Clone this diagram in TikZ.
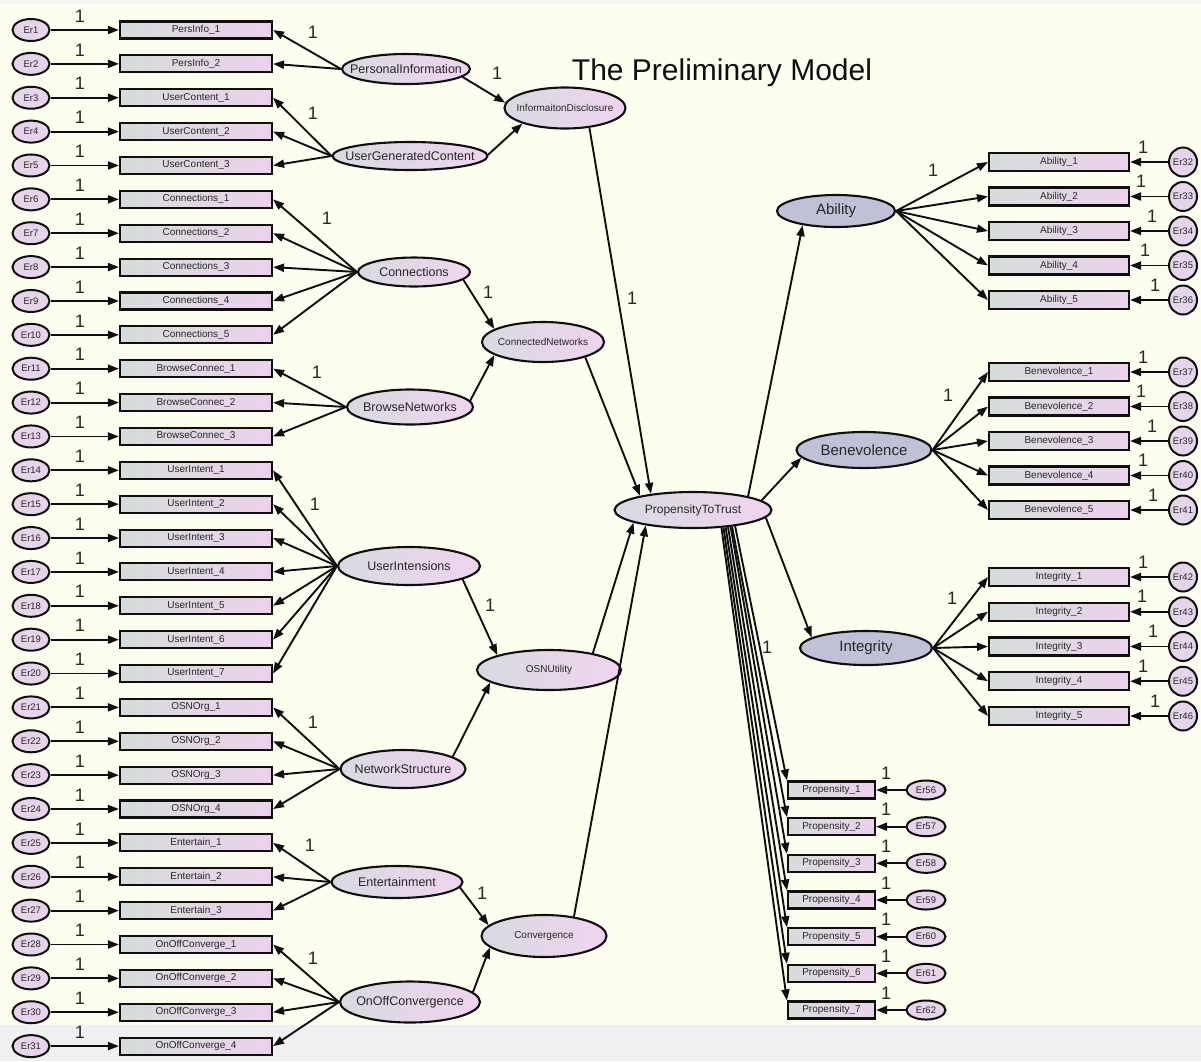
\documentclass[tikz,border=0pt]{standalone}
\usepackage{fontspec}
\setmainfont{Liberation Sans}
\usetikzlibrary{shapes.geometric,arrows.meta}
\definecolor{paper}{RGB}{253,253,240}
\definecolor{band}{RGB}{240,240,240}
\definecolor{topstrip}{RGB}{246,246,244}
\definecolor{obsL}{RGB}{214,220,218}
\definecolor{obsR}{RGB}{236,210,236}
\definecolor{latL}{RGB}{216,218,224}
\definecolor{latR}{RGB}{240,212,240}
\definecolor{errfill}{RGB}{230,212,234}
\definecolor{facfill}{RGB}{192,192,214}
\definecolor{ink}{RGB}{15,15,15}
\definecolor{txt}{RGB}{40,40,40}
% zero-width text so that node sizes come from the minimum sizes only
\newcommand\nw[1]{\makebox[0pt]{#1}}
\begin{document}
\begin{tikzpicture}[x=1pt,y=-1pt,
  arr/.style={line width=1.9pt, draw=ink, -{Triangle[length=11pt,width=8pt]}},
  obs/.style={rectangle, draw=ink, line width=2.1pt, left color=obsL, right color=obsR,
    minimum width=152pt, minimum height=17pt, inner sep=0pt,
    font=\fontsize{10}{11}\selectfont, text=txt},
  obsr/.style={obs, minimum width=140pt, minimum height=18pt},
  obsp/.style={obs, minimum width=87pt, minimum height=17pt},
  errl/.style={ellipse, draw=ink, line width=2pt, fill=errfill, minimum width=37pt,
    minimum height=22pt, inner sep=0pt, font=\fontsize{9.5}{10}\selectfont, text=txt},
  errc/.style={errl, minimum width=28pt, minimum height=29pt},
  errp/.style={errl, minimum width=39pt, minimum height=19pt},
  lat/.style={ellipse, draw=ink, line width=2.1pt, left color=latL, right color=latR,
    inner sep=0pt, font=\fontsize{12.5}{14}\selectfont, text=txt},
  lat2/.style={lat, font=\fontsize{10}{12}\selectfont},
  fac/.style={ellipse, draw=ink, line width=2.1pt, fill=facfill, inner sep=0pt,
    font=\fontsize{15}{17}\selectfont, text=txt},
  lbl/.style={font=\fontsize{18}{20}\selectfont, text=txt, inner sep=0pt}
]
% canvas
\useasboundingbox (0,0) rectangle (1201,1061);
\fill[paper] (0,0) rectangle (1201,1061);
\fill[topstrip] (0,0) rectangle (1201,4);
\fill[band] (0,1025) rectangle (1201,1061);

\node[font=\fontsize{30}{36}\selectfont, text=ink] (title) at (722,73) {The Preliminary Model};

% first-order factors (left)
\node[lat, minimum width=128pt, minimum height=30pt] (PI)  at (406,69)   {\nw{PersonalInformation}};
\node[lat, minimum width=155pt, minimum height=28pt] (UGC) at (410,156)  {\nw{UserGeneratedContent}};
\node[lat, minimum width=112pt, minimum height=29pt] (CON) at (414,272)  {\nw{Connections}};
\node[lat, minimum width=126pt, minimum height=35pt] (BN)  at (410,407)  {\nw{BrowseNetworks}};
\node[lat, minimum width=142pt, minimum height=38pt] (UI)  at (409,566)  {\nw{UserIntensions}};
\node[lat, minimum width=125pt, minimum height=38pt] (NS)  at (403,769)  {\nw{NetworkStructure}};
\node[lat, minimum width=131pt, minimum height=32pt] (ENT) at (397,882)  {\nw{Entertainment}};
\node[lat, minimum width=140pt, minimum height=41pt] (OOC) at (410,1002) {\nw{OnOffConvergence}};

% second-order factors
\node[lat2, minimum width=121pt, minimum height=41pt] (ID)   at (565,108) {\nw{InformaitonDisclosure}};
\node[lat2, minimum width=122pt, minimum height=40pt] (CN)   at (543,342) {\nw{ConnectedNetworks}};
\node[lat2, minimum width=144pt, minimum height=40pt] (OSN)  at (549,670) {\nw{OSNUtility}};
\node[lat2, minimum width=125pt, minimum height=42pt] (CONV) at (544,936) {\nw{Convergence}};

% central factor and outcome factors
\node[lat, font=\fontsize{12}{14}\selectfont, minimum width=157pt, minimum height=36pt] (PT) at (693,510) {\nw{PropensityToTrust}};
\node[fac, minimum width=118pt, minimum height=32pt] (AB) at (836,211) {\nw{Ability}};
\node[fac, minimum width=135pt, minimum height=36pt] (BE) at (864,450) {\nw{Benevolence}};
\node[fac, minimum width=132pt, minimum height=34pt] (IN) at (866,648) {\nw{Integrity}};

% left indicators with their error terms
\foreach \k/\lab/\f in {
  1/PersInfo\_1/PI, 2/PersInfo\_2/PI,
  3/UserContent\_1/UGC, 4/UserContent\_2/UGC, 5/UserContent\_3/UGC,
  6/Connections\_1/CON, 7/Connections\_2/CON, 8/Connections\_3/CON, 9/Connections\_4/CON, 10/Connections\_5/CON,
  11/BrowseConnec\_1/BN, 12/BrowseConnec\_2/BN, 13/BrowseConnec\_3/BN,
  14/UserIntent\_1/UI, 15/UserIntent\_2/UI, 16/UserIntent\_3/UI, 17/UserIntent\_4/UI,
  18/UserIntent\_5/UI, 19/UserIntent\_6/UI, 20/UserIntent\_7/UI,
  21/OSNOrg\_1/NS, 22/OSNOrg\_2/NS, 23/OSNOrg\_3/NS, 24/OSNOrg\_4/NS,
  25/Entertain\_1/ENT, 26/Entertain\_2/ENT, 27/Entertain\_3/ENT,
  28/OnOffConverge\_1/OOC, 29/OnOffConverge\_2/OOC, 30/OnOffConverge\_3/OOC, 31/OnOffConverge\_4/OOC}
{
  \pgfmathsetmacro\yy{30+33.87*(\k-1)}
  \node[errl] (e\k) at (31,\yy) {\nw{Er\k}};
  \node[obs] (b\k) at (196,\yy) {\lab};
  \draw[arr] (e\k) -- (b\k);
  \node[lbl] at (80,\yy-14) {1};
  \draw[arr] (\f.west) -- (b\k.east);
}

% right indicators with their error terms
\foreach \k/\lab/\f/\yy/\ox in {
  32/Ability\_1/AB/162/1143, 33/Ability\_2/AB/196.5/1141, 34/Ability\_3/AB/231/1152,
  35/Ability\_4/AB/265.5/1145, 36/Ability\_5/AB/300/1155,
  37/Benevolence\_1/BE/372/1143, 38/Benevolence\_2/BE/406.5/1141, 39/Benevolence\_3/BE/441/1152,
  40/Benevolence\_4/BE/475.5/1143, 41/Benevolence\_5/BE/510/1153,
  42/Integrity\_1/IN/577/1143, 43/Integrity\_2/IN/611.75/1142, 44/Integrity\_3/IN/646.5/1153,
  45/Integrity\_4/IN/681.25/1143, 46/Integrity\_5/IN/716/1155}
{
  \node[obsr] (b\k) at (1059,\yy) {\lab};
  \node[errc] (e\k) at (1183,\yy) {\nw{Er\k}};
  \draw[arr] (e\k) -- (b\k);
  \node[lbl] at (\ox,\yy-15) {1};
  \draw[arr] (\f.east) -- (b\k.west);
}

% propensity indicators
\foreach \k/\ang in {1/-21.8, 2/-23.2, 3/-24.7, 4/-26.3, 5/-28.1, 6/-30, 7/-32}
{
  \pgfmathsetmacro\yy{790+36.67*(\k-1)}
  \pgfmathtruncatemacro\en{55+\k}
  \node[obsp] (p\k) at (831.5,\yy) {Propensity\_\k};
  \node[errp] (e\en) at (926,\yy) {\nw{Er\en}};
  \draw[arr] (e\en) -- (p\k);
  \node[lbl] at (886,\yy-17) {1};
  \draw[arr] (PT.\ang) -- (p\k.north west);
}

% structural paths
\draw[arr] (PI.-8)    -- (ID.175);
\draw[arr] (UGC.1)    -- (ID.200);
\draw[arr] (CON.-9)   -- (CN.165);
\draw[arr] (BN.6)     -- (CN.195);
\draw[arr] (UI.-14)   -- (OSN.164);
\draw[arr] (NS.14)    -- (OSN.192);
\draw[arr] (ENT.-5)   -- (CONV.169);
\draw[arr] (OOC.9)    -- (CONV.192);
\draw[arr] (ID.-39)   -- (PT.159);
\draw[arr] (CN.-20)   -- (PT.165);
\draw[arr] (OSN.21)   -- (PT.192);
\draw[arr] (CONV.33)  -- (PT.198);
\draw[arr] (PT.14)    -- (AB.203);
\draw[arr] (PT.8)     -- (BE.187);
\draw[arr] (PT.-6)    -- (IN.169);

% fixed loadings
\node[lbl] at (313,32)  {1};
\node[lbl] at (313,113) {1};
\node[lbl] at (327,218) {1};
\node[lbl] at (317,372) {1};
\node[lbl] at (315,504) {1};
\node[lbl] at (313,722) {1};
\node[lbl] at (310,845) {1};
\node[lbl] at (313,958) {1};
\node[lbl] at (497,73)  {1};
\node[lbl] at (488,292) {1};
\node[lbl] at (490,605) {1};
\node[lbl] at (482,893) {1};
\node[lbl] at (632,298) {1};
\node[lbl] at (767,647) {1};
\node[lbl] at (933,170) {1};
\node[lbl] at (948,395) {1};
\node[lbl] at (952,598) {1};
\end{tikzpicture}
\end{document}
